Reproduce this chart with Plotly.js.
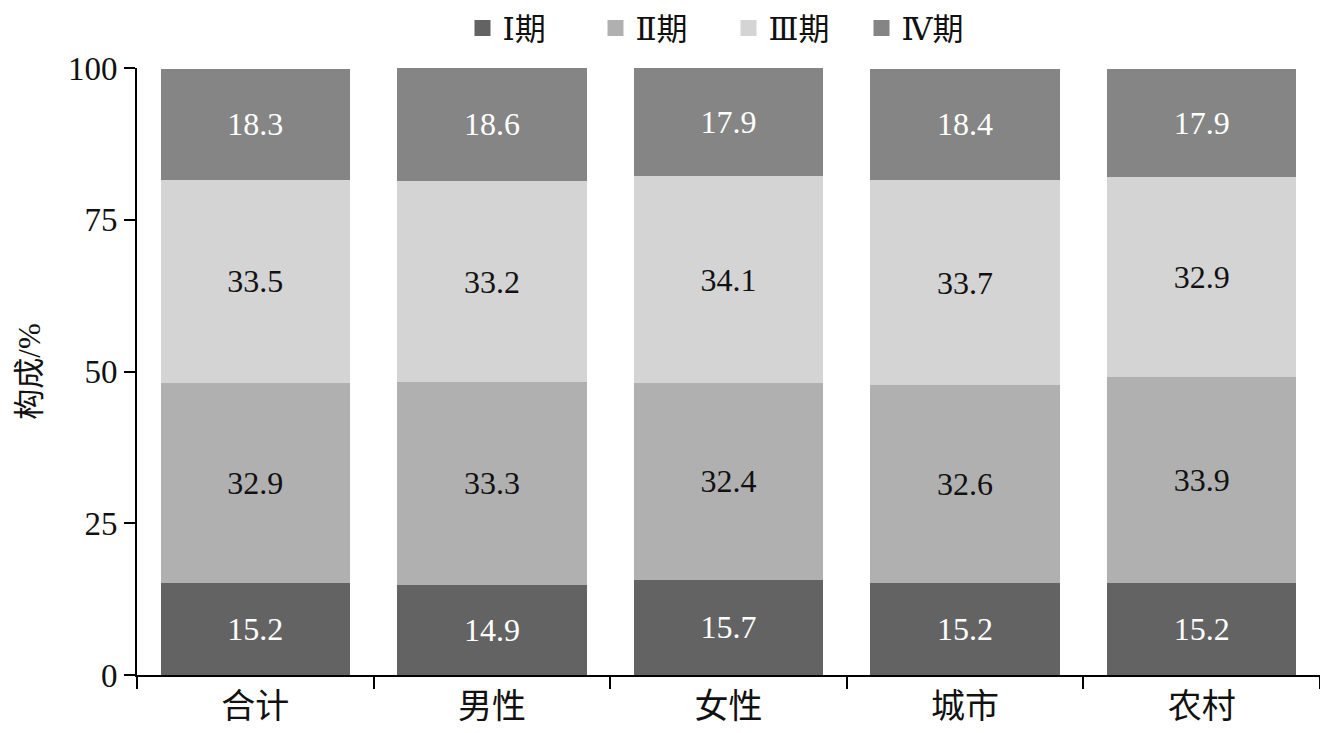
<!DOCTYPE html>
<html>
<head>
<meta charset="utf-8">
<script src="https://cdn.plot.ly/plotly-3.0.1.min.js"></script>
<style>html,body{margin:0;padding:0;background:#fff;}#chart{width:1320px;height:733px;}</style>
</head>
<body>
<div id="chart"></div>
<script>
const categories = ["合计", "男性", "女性", "城市", "农村"];
const seriesNames = ["Ⅰ期", "Ⅱ期", "Ⅲ期", "Ⅳ期"];
const stage1 = [15.2, 14.9, 15.7, 15.2, 15.2];
const stage2 = [32.9, 33.3, 32.4, 32.6, 33.9];
const stage3 = [33.5, 33.2, 34.1, 33.7, 32.9];
const stage4 = [18.3, 18.6, 17.9, 18.4, 17.9];
const yTicks = [0, 25, 50, 75, 100];

const colors = ["#636363", "#b0b0b0", "#d4d4d4", "#858585"];
const textColors = ["#ffffff", "#111111", "#111111", "#ffffff"];
const serif = "'Liberation Serif', 'DejaVu Serif', 'Noto Sans CJK SC', serif";
const allSeries = [stage1, stage2, stage3, stage4];

const traces = allSeries.map((vals, i) => ({
  type: "bar",
  name: seriesNames[i],
  x: categories,
  y: vals,
  text: vals.map(v => v.toFixed(1)),
  textposition: "inside",
  insidetextanchor: "middle",
  constraintext: "none",
  textangle: 0,
  textfont: {family: serif, size: 32, color: textColors[i]},
  marker: {color: colors[i], line: {width: 0}},
  showlegend: false,
  hoverinfo: "skip"
}));

// legend entries with larger square swatches
seriesNames.forEach((n, i) => {
  traces.push({
    type: "scatter",
    mode: "markers",
    name: n,
    x: [categories[0]],
    y: [null],
    marker: {symbol: "square", size: 18, color: colors[i]},
    showlegend: true,
    hoverinfo: "skip"
  });
});

const layout = {
  width: 1320,
  height: 733,
  margin: {l: 137, r: 0, t: 68, b: 58},
  barmode: "stack",
  bargap: 0.2,
  paper_bgcolor: "#ffffff",
  plot_bgcolor: "#ffffff",
  font: {family: serif, color: "#111111"},
  showlegend: true,
  legend: {
    orientation: "h",
    x: 0.5, xanchor: "center",
    y: 1.11, yanchor: "top",
    font: {family: serif, size: 31, color: "#111111"},
    entrywidth: 88,
    itemwidth: 30,
    traceorder: "normal",
    itemclick: false
  },
  xaxis: {
    type: "category",
    showline: true, linecolor: "#000", linewidth: 2,
    ticks: "outside", tickson: "boundaries", ticklen: 12, tickwidth: 2, tickcolor: "#000",
    tickfont: {family: serif, size: 34, color: "#111"},
    showgrid: false, zeroline: false
  },
  yaxis: {
    range: [0, 100],
    tickvals: yTicks,
    ticktext: yTicks.map(String),
    showline: true, linecolor: "#000", linewidth: 2,
    ticks: "outside", ticklen: 11, tickwidth: 2, tickcolor: "#000",
    tickfont: {family: serif, size: 33, color: "#111"},
    showgrid: false, zeroline: false,
    title: {text: "构成/%", font: {family: serif, size: 31, color: "#111"}, standoff: 18}
  }
};

Plotly.newPlot("chart", traces, layout, {displayModeBar: false, staticPlot: true});
</script>
</body>
</html>
